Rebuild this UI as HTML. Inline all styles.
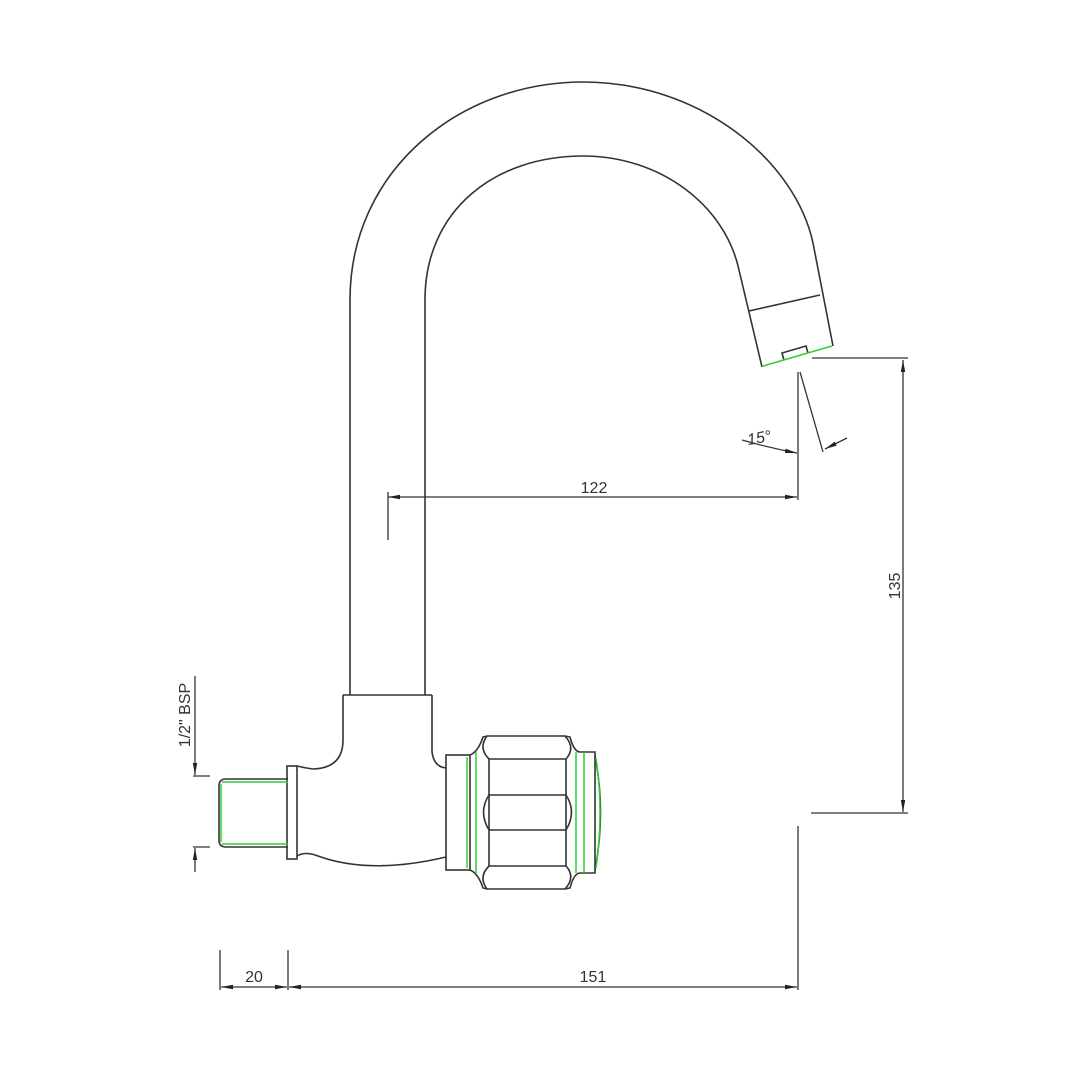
<!DOCTYPE html>
<html><head><meta charset="utf-8"><style>body{margin:0;background:#fff}svg{display:block}</style></head><body>
<svg width="1080" height="1080" viewBox="0 0 1080 1080" xmlns="http://www.w3.org/2000/svg" font-family="Liberation Sans, sans-serif">
<defs><marker id="a" viewBox="0 0 12 6" refX="12" refY="3" markerWidth="12" markerHeight="6" markerUnits="userSpaceOnUse" orient="auto-start-reverse"><path d="M0,0.8 L12,3 L0,5.2Z" fill="#222"/></marker></defs>
<g fill="none" stroke="#333" stroke-width="1.6">
<!-- spout -->
<path d="M350,695 L350,300 C350,170 460,82 583,82 C700,82 795,160 813,243 L833,346"/>
<path d="M425,695 L425,300 C425,210 495,156 583,156 C660,156 725,205 739,270 L762,367"/>
<path d="M749,311 L820,295"/>
<path d="M784,360 L782,353 L806,346 L808,353"/>
<!-- body -->
<path d="M343,695 L432,695"/>
<path d="M343,695 L343,740 Q343,768 313,769 Q305,768 297,766"/>
<path d="M432,695 L432,752 Q434,767 446,768"/>
<path d="M297,856 Q305,851 318,856 Q370,875 446,857"/>
<rect x="287" y="766" width="10" height="93"/>
<path d="M288,779 L226,779 Q219,779 219,786 L219,840 Q219,847 226,847 L288,847"/>
<!-- nut -->
<rect x="446" y="755" width="24" height="115"/>
<path d="M470,755 Q478,752 483,737 L487,736 L565,736 L570,737 Q574,752 580,752 L595,752 L595,873 L580,873 Q574,873 570,888 L565,889 L487,889 L483,888 Q478,873 470,870"/>
<path d="M489,759 L566,759 M489,795 L566,795 M489,830 L566,830 M489,866 L566,866"/>
<path d="M489,759 L489,866 M566,759 L566,866"/>
<path d="M487,736 Q478,748 489,759 M565,736 Q576,748 566,759"/>
<path d="M489,795 Q478,812 489,830 M566,795 Q577,812 566,830"/>
<path d="M487,889 Q478,877 489,866 M565,889 Q576,877 566,866"/>
<path d="M595,756 Q606,812 595,870"/>
</g>
<g fill="none" stroke="#3c3" stroke-width="1.5">
<path d="M467,757 L467,868 M476,752 L476,873 M576,752 L576,873 M584,752 L584,873 M596,758 Q604,812 596,868"/>
<path d="M222,782 L288,782 M222,844 L288,844 M221,784 L221,842"/>
<path d="M763,366 L832,346"/>
</g>
<g fill="none" stroke="#333" stroke-width="1.3">
<!-- 122 -->
<path d="M388,492 L388,540"/>
<path d="M388,497 L797,497" marker-start="url(#a)" marker-end="url(#a)"/>
<path d="M798,372 L798,500"/>
<!-- 15 deg -->
<path d="M800,372 L823,452"/>
<path d="M742,440 Q770,448 797,453" marker-end="url(#a)"/>
<path d="M847,438 L825,449" marker-end="url(#a)"/>
<!-- 135 -->
<path d="M812,358 L908,358 M811,813 L908,813"/>
<path d="M903,360 L903,812" marker-start="url(#a)" marker-end="url(#a)"/>
<!-- 151 / 20 -->
<path d="M798,826 L798,990 M288,950 L288,990 M220,950 L220,990"/>
<path d="M289,987 L797,987" marker-start="url(#a)" marker-end="url(#a)"/>
<path d="M221,987 L287,987" marker-start="url(#a)" marker-end="url(#a)"/>
<!-- BSP -->
<path d="M193,776 L210,776 M193,847 L210,847"/>
<path d="M195,676 L195,775" marker-end="url(#a)"/>
<path d="M195,872 L195,848" marker-end="url(#a)"/>
</g>
<g fill="#333" font-size="16">
<text x="594" y="493" text-anchor="middle">122</text>
<text x="254" y="982" text-anchor="middle">20</text>
<text x="593" y="982" text-anchor="middle">151</text>
<text transform="translate(900,586) rotate(-90)" text-anchor="middle">135</text>
<text transform="translate(190,715) rotate(-90)" text-anchor="middle">1/2" BSP</text>
<text x="760" y="443" font-style="italic" text-anchor="middle" transform="rotate(-10 760 443)">15°</text>
</g>
</svg>
</body></html>
